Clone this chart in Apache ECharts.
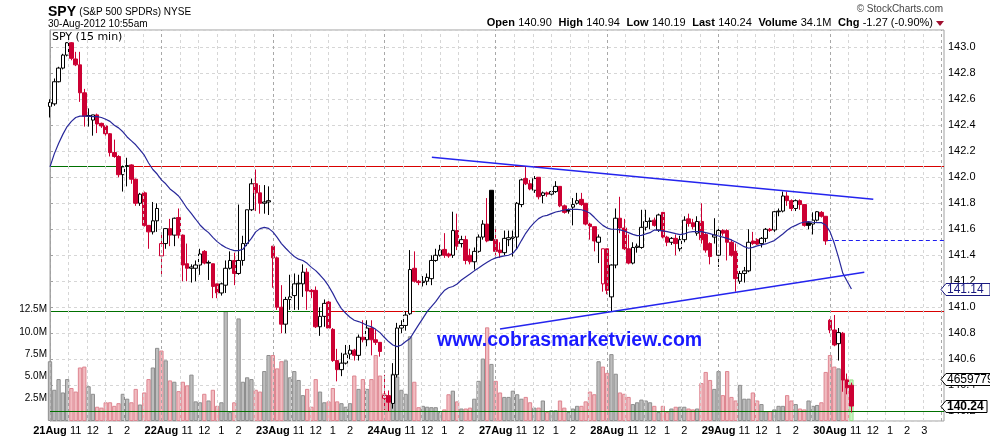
<!DOCTYPE html>
<html>
<head>
<meta charset="utf-8">
<title>SPY (15 min)</title>
<script src="https://cdn.jsdelivr.net/npm/echarts@6/dist/echarts.min.js"></script>
<style>
  html, body { margin: 0; padding: 0; background: #fff; }
  #chart { width: 990px; height: 438px; }
</style>
</head>
<body>
<div id="chart"></div>
<script>
// ---- Sessions and axis labels ----
const sessions = ['21Aug', '22Aug', '23Aug', '24Aug', '27Aug', '28Aug', '29Aug', '30Aug'];
const BARS_PER_DAY = 26;                       // 15-minute bars, 9:30 - 16:00
const hourMarks = [[6, '11'], [10, '12'], [14, '1'], [18, '2'], [22, '3']];

// ---- 15-minute OHLC, one row per session ----
const open = [
  142.545,142.565,142.735,142.84,142.94,143.035,142.91,142.865,142.65,142.47,142.44,142.48,142.415,142.395,142.335,142.19,142.16,142.02,142.085,142.095,141.985,141.80,141.88,141.63,141.58,141.665,
  141.395,141.49,141.605,141.555,141.69,141.555,141.335,141.30,141.30,141.325,141.43,141.34,141.335,141.18,141.11,141.17,141.30,141.36,141.26,141.36,141.49,141.75,141.95,141.88,141.80,141.81,
  141.47,141.38,141.00,140.87,141.06,141.09,141.18,141.18,141.27,141.13,141.13,140.85,140.93,141.04,140.83,140.59,140.52,140.57,140.64,140.67,140.63,140.77,140.75,140.84,140.75,140.73,
  140.30,140.32,140.26,140.48,140.84,140.86,140.95,141.30,141.20,141.19,141.20,141.22,141.36,141.40,141.445,141.41,141.40,141.59,141.49,141.52,141.40,141.35,141.43,141.54,141.64,141.90,
  141.52,141.44,141.42,141.52,141.53,141.54,141.79,141.99,141.95,141.90,142.00,141.86,141.88,141.87,141.89,141.93,141.78,141.75,141.77,141.80,141.83,141.80,141.64,141.62,141.50,141.18,
  141.45,141.08,141.325,141.685,141.61,141.45,141.34,141.46,141.46,141.615,141.66,141.67,141.595,141.73,141.54,141.50,141.53,141.45,141.52,141.68,141.65,141.57,141.66,141.56,141.49,141.54,
  141.40,141.59,141.59,141.50,141.43,141.20,141.26,141.28,141.51,141.52,141.49,141.53,141.60,141.595,141.735,141.74,141.856,141.82,141.76,141.82,141.79,141.65,141.64,141.67,141.73,141.70,
  140.90,140.825,140.72,140.80,140.44,140.40
];
const high = [
  142.60,142.76,142.85,142.95,143.04,143.04,142.965,142.965,142.68,142.53,142.48,142.49,142.42,142.40,142.34,142.29,142.17,142.09,142.15,142.10,141.99,141.88,141.89,141.63,141.81,141.80,
  141.57,141.61,141.68,141.69,141.76,141.56,141.49,141.33,141.36,141.45,141.44,141.36,141.335,141.18,141.19,141.36,141.43,141.42,141.79,141.55,141.75,141.99,142.06,141.94,141.94,141.93,
  141.47,141.39,141.17,141.08,141.25,141.26,141.25,141.33,141.30,141.14,141.16,141.00,141.06,141.06,140.84,140.68,140.65,140.71,140.71,140.68,140.79,140.90,140.90,140.90,140.83,140.73,
  140.48,140.36,140.57,140.88,140.90,140.97,141.44,141.43,141.21,141.24,141.26,141.40,141.45,141.48,141.57,141.42,141.735,141.72,141.55,141.55,141.45,141.46,141.56,141.67,141.84,141.90,
  141.60,141.50,141.59,141.59,141.59,141.81,141.99,142.08,141.98,142.01,142.00,141.89,141.89,141.90,141.97,141.93,141.79,141.76,141.84,141.88,141.88,141.80,141.65,141.62,141.56,141.45,
  141.45,141.33,141.76,141.85,141.68,141.56,141.50,141.49,141.75,141.75,141.69,141.69,141.72,141.73,141.55,141.54,141.56,141.55,141.70,141.72,141.68,141.70,141.80,141.57,141.50,141.685,
  141.62,141.60,141.60,141.52,141.49,141.28,141.31,141.60,141.58,141.53,141.54,141.61,141.61,141.75,141.76,141.89,141.89,141.83,141.83,141.83,141.79,141.66,141.73,141.74,141.74,141.70,
  140.91,140.94,140.84,140.81,140.49,140.42
];
const low = [
  142.46,142.55,142.73,142.83,142.93,142.90,142.855,142.58,142.39,142.39,142.32,142.34,142.38,142.32,142.16,142.15,142.00,141.89,141.93,141.95,141.78,141.78,141.62,141.45,141.56,141.58,
  141.25,141.45,141.47,141.47,141.53,141.20,141.20,141.19,141.20,141.25,141.33,141.21,141.07,141.07,141.09,141.11,141.29,141.17,141.25,141.32,141.47,141.74,141.74,141.72,141.72,141.71,
  141.15,140.98,140.80,140.80,140.98,140.98,140.98,141.08,140.98,141.07,140.84,140.78,140.85,140.83,140.58,140.43,140.47,140.56,140.60,140.59,140.59,140.73,140.70,140.63,140.71,140.62,
  140.21,140.20,140.22,140.46,140.80,140.82,140.94,141.19,141.17,141.16,141.17,141.17,141.35,141.39,141.38,141.38,141.38,141.44,141.46,141.33,141.33,141.29,141.42,141.52,141.50,141.51,
  141.40,141.38,141.40,141.47,141.39,141.45,141.77,141.94,141.90,141.88,141.83,141.80,141.85,141.86,141.88,141.77,141.72,141.72,141.63,141.79,141.78,141.63,141.52,141.43,141.34,141.12,
  141.10,140.97,141.30,141.57,141.44,141.33,141.33,141.42,141.45,141.59,141.60,141.62,141.58,141.53,141.47,141.48,141.40,141.43,141.50,141.62,141.60,141.55,141.49,141.42,141.33,141.49,
  141.31,141.55,141.36,141.39,141.12,141.18,141.19,141.27,141.48,141.48,141.46,141.50,141.58,141.58,141.70,141.73,141.78,141.74,141.74,141.75,141.62,141.60,141.56,141.66,141.69,141.48,
  140.80,140.70,140.59,140.35,140.33,140.19
];
const close = [
  142.575,142.735,142.84,142.94,143.035,142.915,142.865,142.65,142.47,142.475,142.48,142.41,142.395,142.335,142.19,142.16,142.02,142.08,142.09,141.985,141.80,141.87,141.63,141.58,141.665,141.76,
  141.49,141.605,141.555,141.685,141.555,141.325,141.30,141.31,141.325,141.41,141.34,141.345,141.16,141.11,141.18,141.30,141.36,141.26,141.36,141.49,141.75,141.95,141.88,141.80,141.81,141.82,
  141.38,141.00,140.87,141.06,141.08,141.18,141.185,141.27,141.125,141.12,140.85,140.93,141.03,140.84,140.59,140.52,140.57,140.64,140.67,140.63,140.77,140.75,140.84,140.75,140.73,140.66,
  140.32,140.27,140.48,140.84,140.86,140.94,141.29,141.20,141.19,141.20,141.23,141.36,141.40,141.44,141.40,141.395,141.59,141.47,141.52,141.36,141.35,141.43,141.54,141.64,141.51,141.515,
  141.43,141.42,141.53,141.535,141.54,141.80,141.98,141.95,141.91,141.99,141.85,141.88,141.87,141.89,141.93,141.78,141.73,141.74,141.79,141.82,141.79,141.64,141.62,141.51,141.54,141.45,
  141.13,141.325,141.685,141.61,141.45,141.34,141.46,141.47,141.615,141.66,141.665,141.63,141.71,141.54,141.50,141.53,141.49,141.52,141.67,141.645,141.62,141.66,141.52,141.44,141.39,141.556,
  141.59,141.57,141.50,141.40,141.22,141.26,141.28,141.50,141.49,141.485,141.53,141.60,141.59,141.735,141.74,141.856,141.82,141.76,141.82,141.79,141.63,141.63,141.67,141.735,141.70,141.51,
  140.825,140.71,140.805,140.44,140.38,140.24
];

// ---- Volume, millions of shares ----
const volume = [
  6.7,3.5,4.7,3.2,4.7,3.7,3.3,6.0,6.1,3.9,3.05,1.6,1.5,2.1,2.1,1.7,2.0,3.05,2.5,2.1,3.6,1.85,3.2,4.7,6.0,8.2,
  7.9,6.8,4.55,4.4,3.35,4.4,4.0,5.2,2.2,2.1,3.05,2.3,3.5,1.7,2.1,12.3,1.0,2.1,11.5,4.4,4.9,4.7,3.5,3.3,5.6,7.4,
  7.4,5.9,6.7,6.8,4.9,5.6,4.6,2.9,3.6,1.6,4.7,3.3,2.1,2.2,3.7,2.2,2.0,1.6,2.0,5.1,3.6,4.7,3.6,4.7,7.4,5.1,
  3.1,2.7,5.3,5.0,3.5,3.05,9.5,4.4,1.55,1.7,1.6,1.55,1.55,1.0,1.3,3.0,3.4,2.2,1.4,1.4,1.5,2.5,4.5,7.0,10.5,6.4,
  4.5,3.2,2.7,2.7,3.4,3.0,2.5,2.7,2.1,1.5,1.5,2.3,1.0,1.2,1.2,2.3,1.5,1.0,1.4,1.7,1.7,2.2,3.3,3.0,6.7,6.1,
  5.4,7.5,5.3,3.2,3.05,2.7,1.9,2.1,2.4,2.3,2.1,1.7,1.0,1.7,1.0,1.4,1.6,1.6,1.6,1.4,1.3,1.4,4.25,5.5,4.6,3.6,
  5.6,2.9,5.6,2.7,2.3,4.05,2.5,2.5,3.2,2.3,1.9,1.1,1.1,1.3,1.7,1.7,2.9,2.3,1.9,1.4,1.3,2.3,1.7,1.8,2.1,5.5,
  7.4,6.1,5.9,5.3,4.740221,4.659779
];

// ---- 20-bar moving average of the close ----
const sma = [
  142.08,142.18,142.26,142.33,142.39,142.43,142.46,142.47,142.47,142.47,142.466,142.466,142.46,142.446,142.43,142.40,142.38,142.35,142.31,142.28,142.25,142.21,142.17,142.11,142.06,142.025,
  141.98,141.95,141.91,141.885,141.856,141.81,141.76,141.72,141.677,141.633,141.60,141.574,141.538,141.505,141.48,141.46,141.446,141.436,141.436,141.446,141.49,141.53,141.58,141.605,141.615,141.607,
  141.58,141.538,141.49,141.454,141.42,141.39,141.37,141.36,141.338,141.307,141.282,141.248,141.21,141.164,141.107,141.043,140.99,140.954,140.923,140.90,140.89,140.877,140.86,140.85,140.83,140.805,
  140.769,140.736,140.71,140.697,140.71,140.736,140.76,140.813,140.864,140.915,140.966,141.005,141.043,141.09,141.128,141.15,141.16,141.179,141.21,141.233,141.256,141.28,141.302,141.325,141.346,141.366,
  141.38,141.387,141.395,141.40,141.415,141.454,141.513,141.569,141.615,141.651,141.682,141.70,141.707,141.72,141.733,141.74,141.748,141.753,141.753,141.753,141.75,141.74,141.723,141.692,141.659,141.63,
  141.61,141.60,141.60,141.595,141.587,141.574,141.561,141.551,141.553,141.564,141.574,141.595,141.592,141.587,141.582,141.574,141.566,141.559,141.564,141.577,141.582,141.582,141.582,141.574,141.566,141.556,
  141.548,141.54,141.53,141.518,141.502,141.484,141.466,141.454,141.461,141.472,141.48,141.487,141.50,141.513,141.538,141.564,141.592,141.615,141.63,141.646,141.656,141.659,141.654,141.651,141.651,141.633,
  141.582,141.492,141.382,141.261,141.20,141.14
];

// ---- Drawn annotations: [bar, price] end points ----
const resistanceLine = [[89.1, 142.154], [192.1, 141.831]];
const supportLine = [[105.0, 140.833], [190.0, 141.269]];
// horizontal levels: price, segment start/end bar, where price traded relative to the level
const levelSegments = [
  [142.08, 0, 18.7, 'above'], [142.08, 18.7, 208.6, 'below'],
  [140.97, 0, 65.3, 'above'], [140.97, 65.3, 85.2, 'below'], [140.97, 85.2, 182, 'above'], [140.97, 182, 208.6, 'below'],
  [140.20, 0, 208.6, 'above']
];

// ---- Derived values ----
const lastIdx = close.length - 1;
const todayStart = (sessions.length - 1) * BARS_PER_DAY;
const prevClose = close[todayStart - 1];
const X_MAX = 208.6;

const RED = '#cc0033';
const BLACK = '#000000';
const FONT = 'Arial, "Liberation Sans", sans-serif';

const candleData = close.map((c, i) => {
  const prev = i > 0 ? close[i - 1] : open[i];
  const col = c < prev ? RED : BLACK;
  const fill = c > open[i] ? '#ffffff' : col;
  return {
    value: [i, open[i], c, low[i], high[i]],
    itemStyle: { color: fill, color0: fill, borderColor: col, borderColor0: col }
  };
});

const volData = volume.map((v, i) => {
  const prev = i > 0 ? close[i - 1] : open[i];
  let style;
  if (i === lastIdx) style = { color: '#c8f5c0', borderColor: '#98e08c' };
  else if (close[i] < prev) style = { color: '#f1bcc1', borderColor: '#de8590' };
  else style = { color: '#bdbdbd', borderColor: '#8e8e8e' };
  return { value: [i, v], itemStyle: Object.assign({ borderWidth: 1 }, style) };
});

// x-axis labels: session dates and clock hours
const labelValues = [];
const labelText = {};
sessions.forEach((d, k) => {
  const base = k * BARS_PER_DAY;
  labelValues.push(base);
  labelText[base] = '{d|' + d + '}';
  const marks = k === sessions.length - 1 ? hourMarks : hourMarks.slice(0, 4);
  marks.forEach(([off, t]) => {
    labelValues.push(base + off);
    labelText[base + off] = '{h|' + t + '}';
  });
});

// vertical grid: six divisions per session, darker line at each session start
const vGrid = [];
for (let k = 0; k * BARS_PER_DAY / 6 <= X_MAX; k++) {
  const v = k * BARS_PER_DAY / 6;
  const daySep = k % 6 === 0;
  vGrid.push({ xAxis: v, lineStyle: { color: daySep ? '#a8a8a8' : '#d6d6d6', type: [3, 3], width: 1 } });
}

const chart = echarts.init(document.getElementById('chart'));

chart.setOption({
  animation: false,
  backgroundColor: '#ffffff',
  grid: { left: 50, right: 46, top: 30, bottom: 17, show: true, borderColor: '#a0a0a0', borderWidth: 1, backgroundColor: '#ffffff' },
  xAxis: [{
    type: 'value', min: 0, max: X_MAX,
    axisLine: { show: false }, axisTick: { show: false }, splitLine: { show: false },
    axisLabel: {
      customValues: labelValues,
      formatter: v => labelText[v] || '',
      margin: 4,
      rich: {
        d: { fontFamily: FONT, fontSize: 11, fontWeight: 'bold', color: '#000' },
        h: { fontFamily: FONT, fontSize: 11, color: '#000' }
      }
    }
  }],
  yAxis: [{
    type: 'value', position: 'right', min: 140.125, max: 143.133, splitNumber: 15,
    axisLine: { show: true, lineStyle: { color: '#a0a0a0' } },
    axisTick: { show: true, length: 3, lineStyle: { color: '#a0a0a0' } },
    axisLabel: { formatter: v => v.toFixed(1), showMinLabel: false, showMaxLabel: false, fontFamily: FONT, fontSize: 11, color: '#000', margin: 4 },
    splitLine: { show: true, lineStyle: { color: '#d6d6d6', type: [3, 3] } }
  }, {
    type: 'value', position: 'left', min: 0, max: 43.83, interval: 2.5,
    axisLine: { show: false }, axisTick: { show: false }, splitLine: { show: false },
    axisLabel: { formatter: v => (v > 0 && v <= 12.5) ? v.toFixed(1) + 'M' : '', showMaxLabel: false, fontFamily: FONT, fontSize: 10, color: '#000', margin: 3 }
  }],
  series: [
    {
      type: 'line', xAxisIndex: 0, yAxisIndex: 0, silent: true, symbol: 'none', z: 0,
      data: [[0, 141], [X_MAX, 141]], lineStyle: { opacity: 0 },
      markLine: { silent: true, symbol: 'none', label: { show: false }, data: vGrid }
    },
    {
      type: 'bar', xAxisIndex: 0, yAxisIndex: 1, barWidth: '100%', silent: true, z: 1,
      data: volData
    },
    {
      type: 'candlestick', xAxisIndex: 0, yAxisIndex: 0, barWidth: 4, z: 4,
      encode: { x: 0, y: [1, 2, 3, 4] },
      itemStyle: { borderWidth: 1 },
      data: candleData
    },
    {
      type: 'line', xAxisIndex: 0, yAxisIndex: 0, symbol: 'none', silent: true, z: 5,
      data: sma.map((v, i) => [i, v]),
      lineStyle: { color: '#28289a', width: 1.2 }
    },
    {
      type: 'line', xAxisIndex: 0, yAxisIndex: 0, symbol: 'none', silent: true, z: 5,
      data: resistanceLine, lineStyle: { color: '#2424ee', width: 1.5 }
    },
    {
      type: 'line', xAxisIndex: 0, yAxisIndex: 0, symbol: 'none', silent: true, z: 5,
      data: supportLine, lineStyle: { color: '#2424ee', width: 1.5 }
    }
  ]
});

// ---- Level lines, header and value tags ----
const px = v => chart.convertToPixel({ xAxisIndex: 0 }, v);
const py = v => chart.convertToPixel({ yAxisIndex: 0 }, v);
const crisp = y => Math.round(y - 0.5) + 0.5;

const levelGraphics = levelSegments.map(([p, a, b, side]) => ({
  type: 'line', z: 3, silent: true,
  shape: { x1: px(a), y1: crisp(py(p)), x2: px(b), y2: crisp(py(p)) },
  style: { stroke: side === 'above' ? '#007000' : '#d80000', lineWidth: 1 }
}));
levelGraphics.push({
  type: 'line', z: 5, silent: true,
  shape: { x1: px(todayStart - 0.5), y1: crisp(py(prevClose)), x2: px(X_MAX), y2: crisp(py(prevClose)) },
  style: { stroke: '#1c1cf0', lineWidth: 1, lineDash: [4, 3] }
});

const dayOpen = open[todayStart];
const dayHigh = Math.max(...high.slice(todayStart));
const dayLow = Math.min(...low.slice(todayStart));
const dayLast = close[lastIdx];
const dayVol = volume.slice(todayStart).reduce((s, v) => s + v, 0);
const chg = dayLast - prevClose;
const chgPct = chg / prevClose * 100;

function tag(yPix, text, color, bold, xLeft, width) {
  const h = 12, x0 = xLeft, x1 = xLeft + 5, x2 = xLeft + width;
  return [{
    type: 'polygon', z: 100,
    shape: { points: [[x0, yPix], [x1, yPix - h / 2], [x2, yPix - h / 2], [x2, yPix + h / 2], [x1, yPix + h / 2]] },
    style: { fill: '#ffffff', stroke: color, lineWidth: 1 }
  }, {
    type: 'text', z: 101, x: x1 + 1, y: yPix,
    style: { text: text, fill: color, font: (bold ? 'bold ' : '') + '12px ' + FONT, textVerticalAlign: 'middle' }
  }];
}

const yMA = crisp(py(sma[lastIdx]));
const yLast = crisp(py(dayLast));
const yVol = crisp(chart.convertToPixel({ yAxisIndex: 1 }, volume[lastIdx]));

chart.setOption({
  graphic: [
    ...levelGraphics,
    { type: 'text', left: 48, top: 5, z: 100,
      style: { text: '{b|SPY} {n|(S&P 500 SPDRs) NYSE}', rich: {
        b: { font: 'bold 14px ' + FONT, fill: '#000' },
        n: { font: '10px ' + FONT, fill: '#000' } } } },
    { type: 'text', left: 48, top: 19, z: 100, style: { text: '30-Aug-2012 10:55am', font: '10px ' + FONT, fill: '#000' } },
    { type: 'text', right: 47, top: 4, z: 100, style: { text: '\u00a9 StockCharts.com', font: '10px ' + FONT, fill: '#444' } },
    { type: 'text', right: 57, top: 17, z: 100,
      style: {
        text: '{b|Open} {n|' + dayOpen.toFixed(2) + '}  {b|High} {n|' + dayHigh.toFixed(2) + '}  {b|Low} {n|' + dayLow.toFixed(2) +
              '}  {b|Last} {n|' + dayLast.toFixed(2) + '}  {b|Volume} {n|' + dayVol.toFixed(1) + 'M}  {b|Chg} {n|' +
              chg.toFixed(2) + ' (' + chgPct.toFixed(2) + '%)}',
        rich: { b: { font: 'bold 11px ' + FONT, fill: '#000' }, n: { font: '11px ' + FONT, fill: '#000' } }
      } },
    { type: 'polygon', z: 100, shape: { points: [[936, 21], [944, 21], [940, 26]] }, style: { fill: '#a01030' } },
    { type: 'text', left: 52, top: 32, z: 100, style: { text: 'SPY (15 min)', font: '11px "DejaVu Sans", Verdana, sans-serif', fill: '#000' } },
    { type: 'text', left: 437, top: 331, z: 100, style: { text: 'www.cobrasmarketview.com', font: 'bold 19.5px ' + FONT, fill: '#1a1aff' } },
    ...tag(yMA, sma[lastIdx].toFixed(2), '#1a1a80', false, 941, 49),
    ...tag(yVol, String(Math.round(volume[lastIdx] * 1e6)), '#000', false, 941, 52),
    ...tag(yLast, dayLast.toFixed(2), '#000', true, 941, 46)
  ]
});
</script>
</body>
</html>
